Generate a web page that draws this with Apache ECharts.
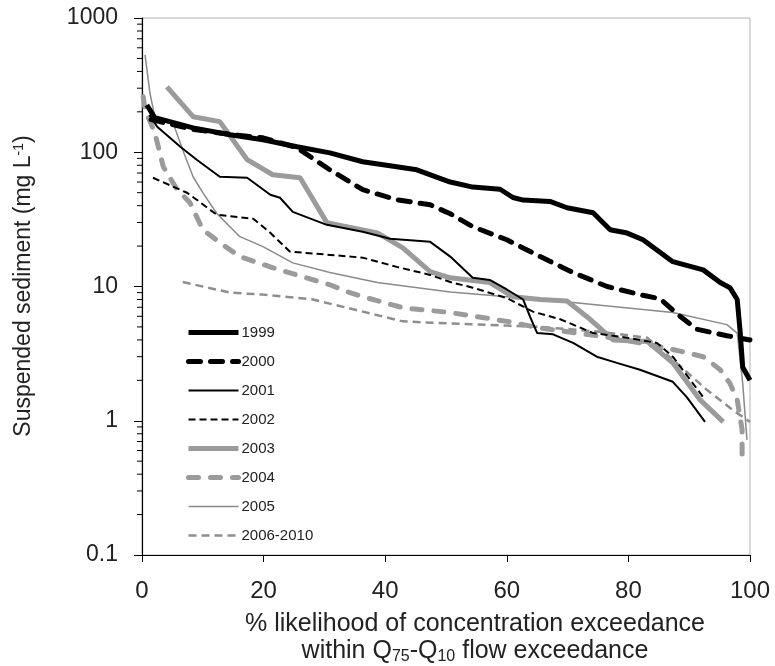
<!DOCTYPE html>
<html>
<head>
<meta charset="utf-8">
<script src="https://cdn.jsdelivr.net/npm/echarts@6/dist/echarts.min.js"></script>
<style>
  html, body { margin: 0; padding: 0; background: #fff; }
  #chart { width: 775px; height: 666px; }
</style>
</head>
<body>
<div id="chart"></div>
<script>
// series names, in legend order
var years = ['1999', '2000', '2001', '2002', '2003', '2004', '2005', '2006-2010']

// % likelihood of exceedance (x) and suspended sediment mg/L (y)
var x1999 = [0.8, 2.1, 8.4, 14.5, 19.9, 25.5, 30.9, 36.3, 41.9, 45.2, 50.7, 54.4, 58.9, 61.0, 62.7, 67.1, 69.9, 74.2, 77.0, 79.8, 82.4, 87.3, 92.3, 95.1, 96.7, 97.9, 98.4, 98.8, 100]
var y1999 = [225, 181, 152, 135, 124, 110, 99, 85, 78, 74, 60, 55, 53, 46, 44, 43, 38.6, 35.4, 26.5, 25, 22.3, 15.3, 13.3, 10.7, 9.8, 8.0, 4.5, 2.5, 2.0]

var x2000 = [1.5, 8.4, 14.5, 19.9, 25.5, 30.9, 36.3, 41.9, 47.4, 50.7, 54.4, 60.0, 65.5, 70.9, 76.5, 81.9, 85.2, 88.5, 91.3, 96.2, 100]
var y2000 = [175, 148, 136, 128, 108, 74, 52.6, 44.3, 40.6, 34.8, 27.9, 22.3, 16.7, 12.7, 10.0, 8.7, 8.1, 6.0, 4.8, 4.3, 4.0]

var x2001 = [1.2, 2.5, 6.3, 9.0, 12.8, 17.3, 21.1, 22.7, 24.8, 30.4, 36.3, 40.8, 47.4, 50.7, 54.4, 57.2, 60.0, 62.7, 63.8, 65.0, 67.6, 70.9, 74.8, 78.1, 81.9, 87.3, 89.6, 92.6]
var y2001 = [190, 155, 110, 88, 65.7, 64.6, 48.2, 45.8, 36.0, 28.8, 25.6, 22.7, 21.5, 16.7, 11.6, 11.2, 9.5, 8.0, 6.0, 4.5, 4.4, 3.8, 3.0, 2.7, 2.4, 1.95, 1.5, 0.98]

var x2002 = [1.8, 7.4, 9.0, 12.3, 18.3, 21.1, 24.3, 30.9, 36.3, 41.9, 47.4, 50.7, 54.4, 60.0, 64.3, 68.8, 74.2, 79.8, 84.7, 87.3, 90.6, 92.3]
var y2002 = [64.6, 49.9, 44.3, 34.2, 32.0, 25.1, 18.2, 17.2, 16.4, 14.0, 12.2, 10.8, 9.8, 8.2, 6.5, 5.7, 4.5, 4.15, 3.8, 3.0, 1.9, 1.5]

var x2003 = [4.1, 8.4, 12.8, 17.3, 21.5, 26.0, 30.4, 38.7, 42.9, 47.4, 50.7, 57.2, 61.0, 65.5, 69.9, 73.7, 77.5, 83.1, 87.3, 91.8, 95.6]
var y2003 = [307, 184, 169, 88, 68, 64.6, 29.9, 25.1, 19.4, 12.9, 11.6, 10.7, 8.4, 8.0, 7.8, 5.7, 4.0, 3.9, 2.7, 1.43, 0.98]

var x2004 = [0.2, 0.5, 2.1, 3.5, 5.8, 7.9, 10.0, 12.8, 16.1, 21.1, 26.5, 30.9, 34.2, 36.3, 42.9, 50.7, 60.0, 65.5, 76.5, 84.7, 88.5, 92.3, 95.1, 96.7, 97.9, 98.7, 98.7]
var y2004 = [259, 207, 140, 78, 52.6, 42, 26.5, 21.2, 16.7, 14.0, 11.8, 10.3, 9.0, 8.4, 6.95, 6.4, 5.5, 4.9, 4.2, 3.6, 3.3, 3.0, 2.4, 1.9, 1.43, 0.86, 0.51]

var x2005 = [0.5, 1.3, 2.1, 5.1, 6.7, 8.4, 10.0, 12.3, 16.1, 19.9, 24.8, 30.9, 38.7, 50.7, 60.0, 70.9, 87.3, 96.2, 97.9, 98.8, 99.5]
var y2005 = [532, 277, 184, 166, 104, 65.7, 50, 35, 23.5, 19.8, 15, 12.7, 10.7, 9.1, 8.4, 7.6, 6.4, 5.2, 4.5, 1.9, 0.72]

var x2006 = [6.7, 14.5, 19.9, 28.1, 36.3, 42.9, 50.7, 65.5, 75.3, 83.1, 87.3, 92.9, 97.2, 100]
var y2006 = [10.8, 9.0, 8.7, 8.0, 6.5, 5.5, 5.3, 5.0, 4.6, 4.15, 2.85, 1.7, 1.2, 0.98]

// log axis minor tick values (2..9 per decade)
var minorTickVals = [0.2, 0.3, 0.4, 0.5, 0.6, 0.7, 0.8, 0.9, 2, 3, 4, 5, 6, 7, 8, 9,
  20, 30, 40, 50, 60, 70, 80, 90, 200, 300, 400, 500, 600, 700, 800, 900]

var xs = [x1999, x2000, x2001, x2002, x2003, x2004, x2005, x2006]
var ys = [y1999, y2000, y2001, y2002, y2003, y2004, y2005, y2006]

var FONT = "'Liberation Sans', Arial, sans-serif"

var styles = [
  { color: '#000000', width: 5, type: 'solid' },
  { color: '#000000', width: 5, type: [12, 10], cap: 'round' },
  { color: '#000000', width: 2, type: 'solid' },
  { color: '#000000', width: 2, type: [7, 4] },
  { color: '#9b9b9b', width: 5, type: 'solid' },
  { color: '#9b9b9b', width: 5, type: [10, 12], cap: 'round' },
  { color: '#8a8a8a', width: 1.5, type: 'solid' },
  { color: '#8e8e8e', width: 2.5, type: [8, 5] }
]

function zip(a, b) {
  return a.map(function(v, i) { return [v, b[i]] })
}

var series = years.map(function(name, i) {
  var s = styles[i]
  return {
    name: name,
    type: 'line',
    data: zip(xs[i], ys[i]),
    symbol: 'none',
    smooth: false,
    z: 10 - i,
    lineStyle: { color: s.color, width: s.width, type: s.type, cap: s.cap || 'butt' },
    itemStyle: { color: s.color },
    emphasis: { disabled: true }
  }
})

// minor ticks on the log axis, placed through the axis scale
series.push({
  name: 'minor',
  type: 'custom',
  silent: true,
  clip: false,
  data: minorTickVals.map(function(v) { return [0, v] }),
  renderItem: function(params, api) {
    var p = api.coord([0, api.value(1)])
    return {
      type: 'line',
      shape: { x1: p[0] - 5, y1: p[1], x2: p[0], y2: p[1] },
      style: { stroke: '#000', lineWidth: 1 }
    }
  }
})

var myChart = echarts.init(document.getElementById('chart'))
myChart.setOption({
  animation: false,
  backgroundColor: '#fff',
  textStyle: { fontFamily: FONT },
  grid: {
    left: 142, right: 25, top: 18, bottom: 111,
    show: true, borderColor: '#b4b4b4', borderWidth: 1, backgroundColor: 'transparent'
  },
  legend: {
    orient: 'vertical',
    left: 186,
    top: 325,
    padding: 0,
    itemWidth: 50,
    itemHeight: 14,
    itemGap: 14,
    itemStyle: { opacity: 0 },
    textStyle: { fontSize: 15, color: '#222', fontFamily: FONT, padding: [0, 0, 0, -2] },
    data: years.map(function(name, i) {
      return {
        name: name,
        itemStyle: { opacity: 0 },
        lineStyle: { width: styles[i].width, type: styles[i].type, cap: styles[i].cap || 'butt' }
      }
    })
  },
  xAxis: {
    type: 'value',
    min: 0,
    max: 100,
    interval: 20,
    axisLine: { lineStyle: { color: '#000', width: 1.2 } },
    axisTick: { show: true, inside: false, length: 7, lineStyle: { color: '#000' } },
    axisLabel: { fontSize: 24, color: '#222', margin: 24, fontFamily: FONT },
    splitLine: { show: false }
  },
  yAxis: {
    type: 'log',
    logBase: 10,
    min: 0.1,
    max: 1000,
    axisLine: { show: true, lineStyle: { color: '#000', width: 1.2 } },
    axisTick: { show: true, inside: false, length: 8, lineStyle: { color: '#000' } },
    axisLabel: {
      fontSize: 23, color: '#222', margin: 24, fontFamily: FONT,
      formatter: function(v) { return String(v) }
    },
    splitLine: { show: false }
  },
  graphic: [
    {
      type: 'text',
      x: 24,
      y: 286,
      rotation: Math.PI / 2,
      style: {
        text: 'Suspended sediment (mg L{sup|-1})',
        fontSize: 23,
        fontFamily: FONT,
        fill: '#222',
        align: 'center',
        verticalAlign: 'middle',
        rich: {
          sup: { fontSize: 14, verticalAlign: 'top', padding: [0, 0, 9, 0], fontFamily: FONT, fill: '#222' }
        }
      }
    },
    {
      type: 'text',
      x: 475,
      y: 624,
      style: {
        text: '% likelihood of concentration exceedance',
        fontSize: 25,
        fontFamily: FONT,
        fill: '#222',
        align: 'center',
        verticalAlign: 'middle'
      }
    },
    {
      type: 'text',
      x: 475,
      y: 651,
      style: {
        text: 'within Q{sub|75}-Q{sub|10} flow exceedance',
        fontSize: 25,
        fontFamily: FONT,
        fill: '#222',
        align: 'center',
        verticalAlign: 'middle',
        rich: {
          sub: { fontSize: 16, padding: [11, 0, 0, 0], fontFamily: FONT, fill: '#222' }
        }
      }
    }
  ],
  series: series
})
</script>
</body>
</html>
